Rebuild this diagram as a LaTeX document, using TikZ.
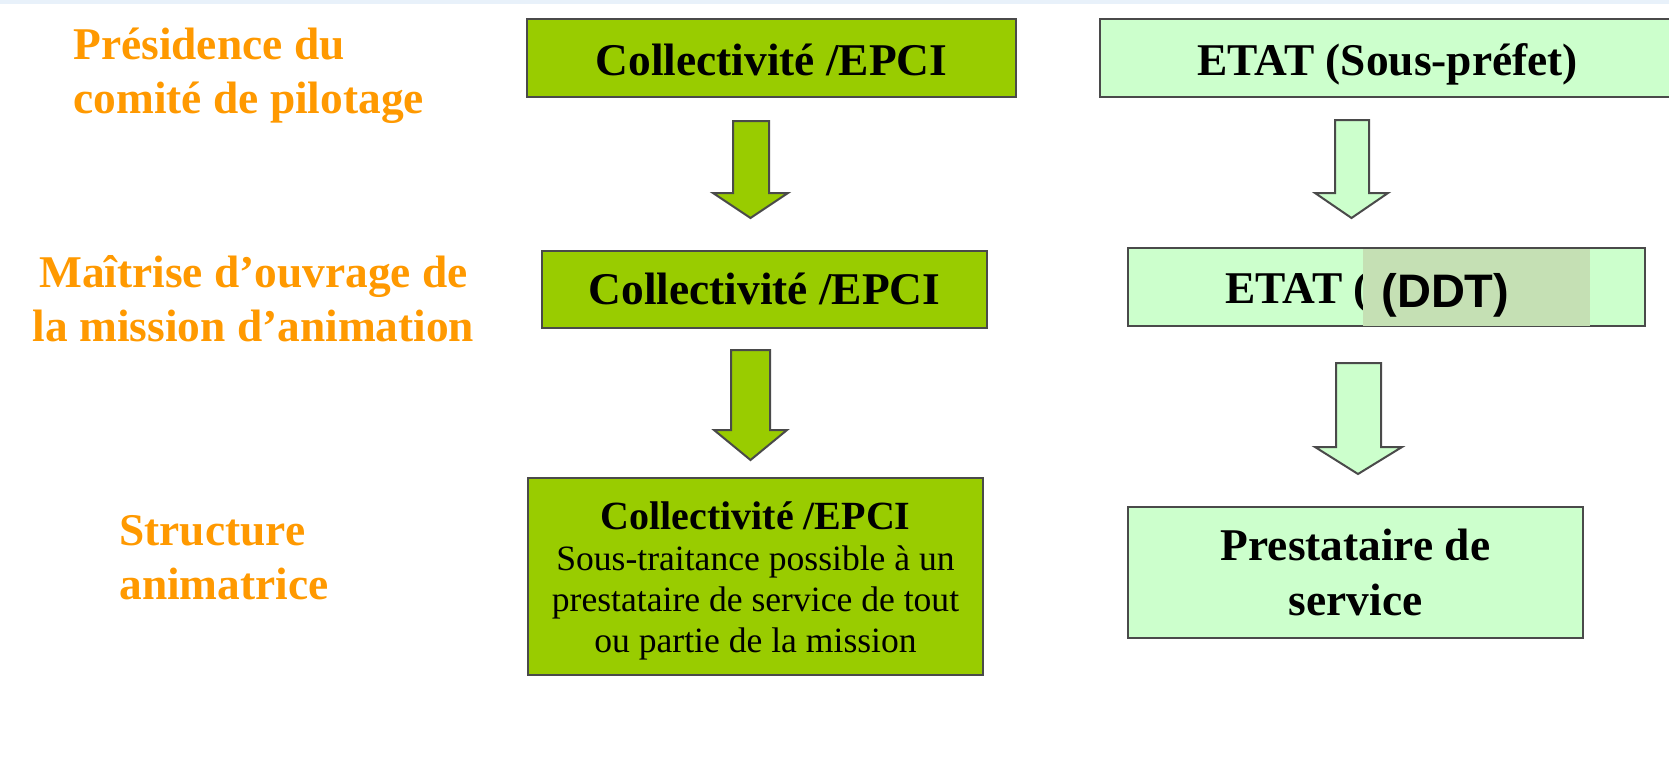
\documentclass[tikz,border=0pt]{standalone}
\usepackage{fontspec}
\setmainfont{Liberation Serif}
\newfontfamily\arialfont{Liberation Sans}
\definecolor{dkgreen}{HTML}{99CC00}
\definecolor{ltgreen}{HTML}{CCFFCC}
\definecolor{sage}{HTML}{C5E0B4}
\definecolor{orangelbl}{HTML}{FF9900}
\definecolor{edgegray}{HTML}{4A4A4A}
\definecolor{band}{HTML}{E8F1FA}
\begin{document}
\begin{tikzpicture}[x=0.5pt, y=-0.5pt,
  box/.style={draw=edgegray, line width=1pt, inner sep=0pt, font=\fontsize{22.7}{27.5}\selectfont\bfseries},
  dark/.style={box, fill=dkgreen},
  light/.style={box, fill=ltgreen},
  lbl/.style={text=orangelbl, font=\fontsize{22.7}{27}\selectfont\bfseries, inner sep=0pt},
  plain/.style={inner sep=0pt, font=\fontsize{22.7}{27}\selectfont\bfseries},
  blockarrow/.style={draw=edgegray, line width=1pt, line join=miter}]
\useasboundingbox (0,0) rectangle (1669,756);
\clip (0,0) rectangle (1669,756);
\fill[band] (0,0) rectangle (1669,3.5);

% row labels
\node[lbl, align=left, anchor=west] (l1) at (73,76) {Présidence du\\comité de pilotage};
\node[lbl, align=center] (l2) at (253.5,298.6) {Maîtrise d’ouvrage de\\la mission d’animation};
\node[lbl, align=left, anchor=west] (l3) at (119,558) {Structure\\animatrice};

% left column
\node[dark, minimum width=244.5pt, minimum height=39pt, text height=17pt, text depth=0pt] (c1) at (771.5,58) {Collectivité /EPCI};
\node[dark, minimum width=222.5pt, minimum height=38.5pt, text height=14.5pt, text depth=0pt] (c2) at (764.5,289.5) {Collectivité /EPCI};
\node[dark, minimum width=227.5pt, minimum height=98.5pt, align=center, font=\fontsize{17.8}{20.5}\selectfont] (c3) at (755.5,576.5)
  {{\fontsize{20}{20.5}\selectfont\bfseries\rule{0pt}{17.9pt}Collectivité /EPCI}\\Sous-traitance possible à un\\prestataire de service de tout\\ou partie de la mission};

% right column
\node[light, minimum width=288.25pt, minimum height=39pt, text height=17pt, text depth=0pt] (e1) at (1387.75,58) {ETAT (Sous-préfet)};
\node[light, minimum width=258.5pt, minimum height=39pt] (e2) at (1386.5,287) {};
\node[plain, anchor=base west] (e2t) at (1225,303) {ETAT (};
\node[fill=sage, minimum width=113.5pt, minimum height=38.5pt, inner sep=0pt] (ddtbg) at (1476.5,287.5) {};
\node[anchor=base west, inner sep=0pt, font=\fontsize{23.5}{27}\selectfont\arialfont\bfseries] (ddt) at (1381,307) {(DDT)};
\node[light, minimum width=227.5pt, minimum height=65.5pt, align=center] (p1) at (1355.5,572.5) {Prestataire de\\service};

% block arrows
\draw[blockarrow, fill=dkgreen] (733,121) -- (769,121) -- (769,193) -- (788,193) -- (750.5,218) -- (713,193) -- (733,193) -- cycle;
\draw[blockarrow, fill=dkgreen] (731,350) -- (770,350) -- (770,430) -- (787,430) -- (750.5,460) -- (714,430) -- (731,430) -- cycle;
\draw[blockarrow, fill=ltgreen] (1335,120) -- (1369,120) -- (1369,193) -- (1388,193) -- (1351.5,218) -- (1315,193) -- (1335,193) -- cycle;
\draw[blockarrow, fill=ltgreen] (1336,363) -- (1381,363) -- (1381,447) -- (1402,447) -- (1358,474) -- (1315,447) -- (1336,447) -- cycle;
\end{tikzpicture}
\end{document}
